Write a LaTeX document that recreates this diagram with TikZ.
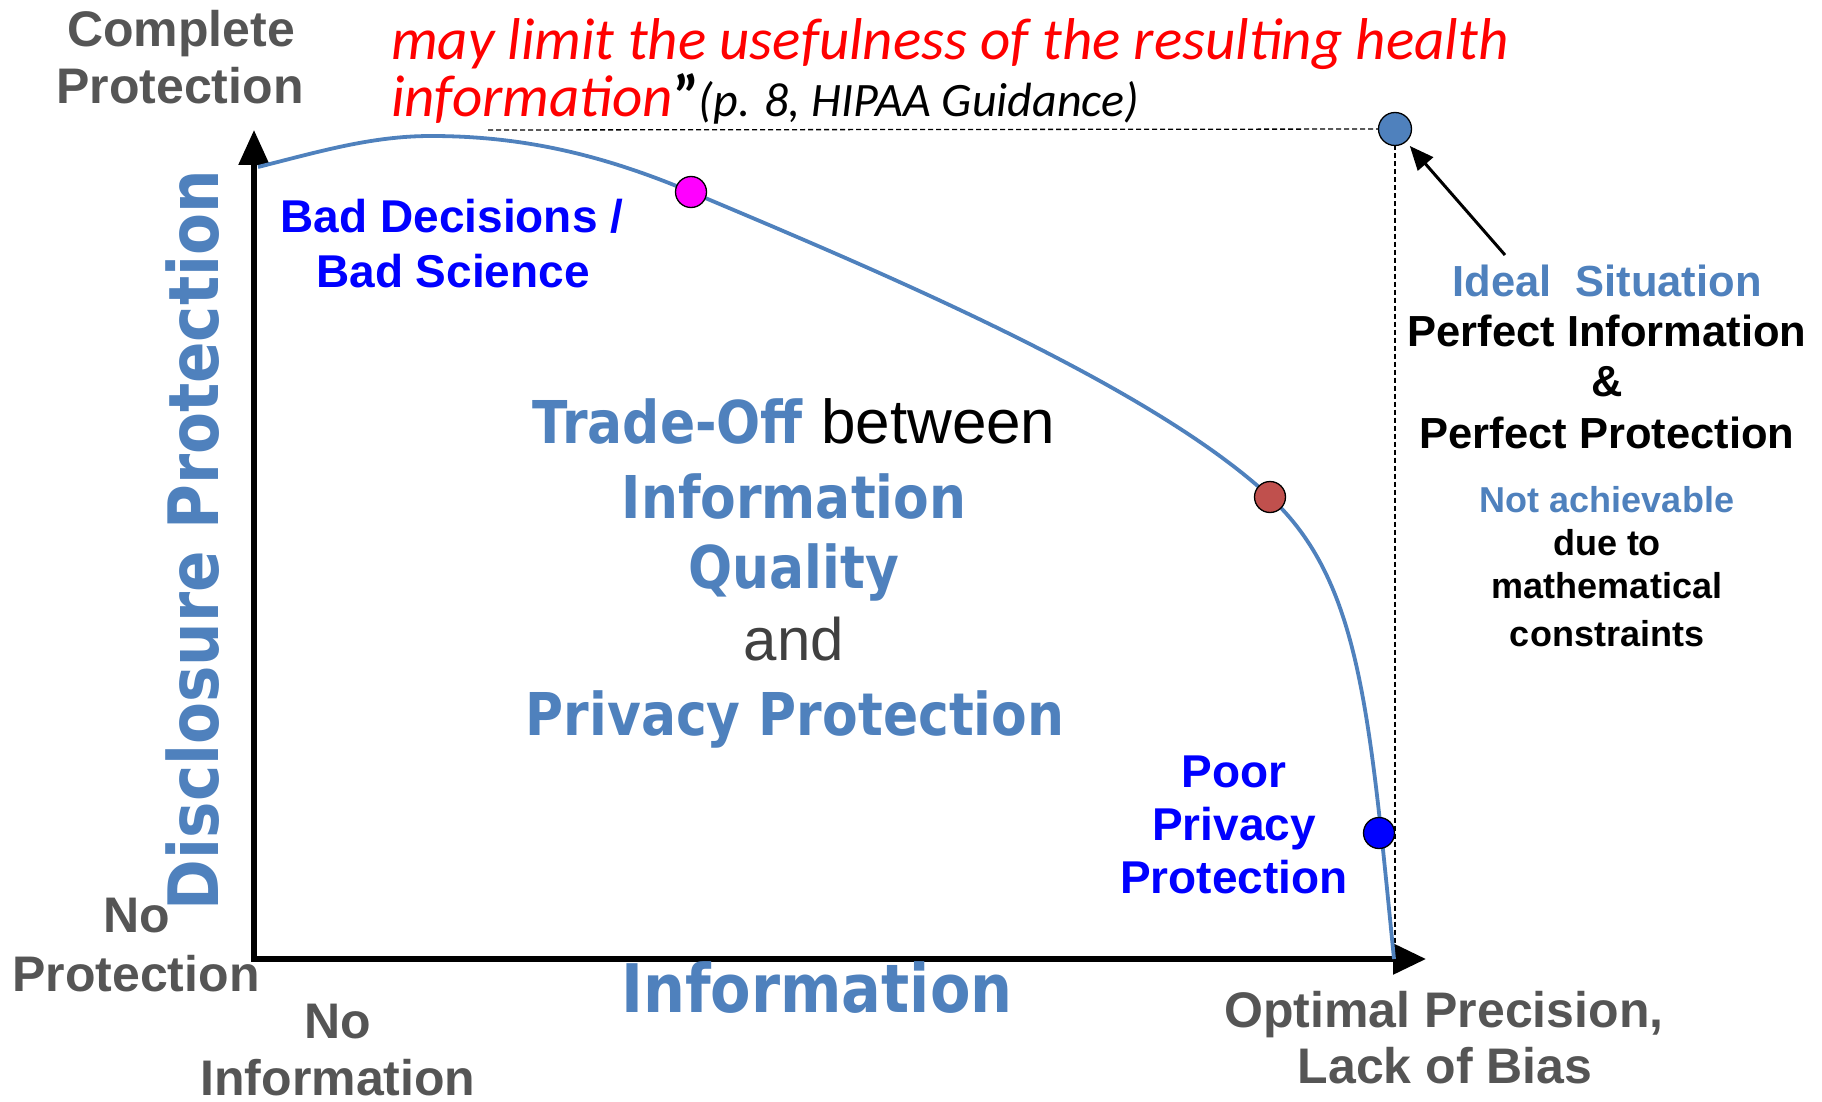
\documentclass[tikz,border=0pt]{standalone}
\usepackage{fontspec}
\setmainfont{Liberation Sans}
\newfontfamily\hum[FakeStretch=0.88]{DejaVu Sans}
\newfontfamily\calfont{Carlito}
\usetikzlibrary{arrows.meta}
\definecolor{steel}{RGB}{79,129,189}
\definecolor{gtxt}{RGB}{85,85,85}
\definecolor{pblue}{RGB}{0,0,255}
\definecolor{magpt}{RGB}{255,0,255}
\definecolor{redpt}{RGB}{192,80,77}
\definecolor{qred}{RGB}{255,0,0}
\definecolor{andgray}{RGB}{64,64,64}
\begin{document}
\begin{tikzpicture}[x=1pt,y=-1pt,
  every node/.style={inner sep=0pt,outer sep=0pt},
  graylab/.style={font=\fontsize{50}{60}\selectfont\bfseries,text=gtxt,anchor=base},
  bluelab/.style={font=\fontsize{46}{50}\selectfont\bfseries,text=pblue,anchor=base},
  rightlab/.style={font=\fontsize{43.5}{50}\selectfont\bfseries,anchor=base},
  smalllab/.style={font=\fontsize{36}{40}\selectfont\bfseries,anchor=base},
  centerlab/.style={font=\hum\fontsize{59}{60}\selectfont\bfseries,text=steel,anchor=base},
  dot/.style={circle,draw=black,line width=1.3pt,minimum size=31pt},
  axisline/.style={line width=5.5pt,line join=miter,{Triangle[length=35pt,width=30pt]}-{Triangle[length=33pt,width=30pt]}},
  curveline/.style={draw=steel,line width=3.8pt},
  dashline/.style={line width=1.3pt,dash pattern=on 5pt off 3pt},
  pointer/.style={line width=3pt,-{Triangle[length=24pt,width=20pt]},shorten >=6pt}
]
\useasboundingbox (0,0) rectangle (1822,1102);

% axes
\coordinate (ytop) at (254,130);
\coordinate (orig) at (254,959);
\coordinate (xend) at (1426,959);
\draw[axisline] (ytop) -- (orig) -- (xend);

% ideal point and dashed guides
\node[dot,fill=steel,minimum size=33pt] (ideal) at (1395,129) {};
\coordinate (dh) at (488,130);
\coordinate (dv) at (1395,955);
\draw[dashline] (dh) -- (ideal);
\draw[dashline] (ideal) -- (dv);

% frontier curve
\coordinate (cs) at (258,167);
\coordinate (cpk) at (431,136);
\coordinate (cm) at (691,192);
\coordinate (cr) at (1270,497);
\coordinate (ce) at (1394,959);
\draw[curveline] (cs) .. controls (318,152) and (371,136) .. (cpk)
  .. controls (521,136) and (601,154) .. (cm)
  .. controls (881,272) and (1150,385) .. (cr)
  .. controls (1360,581) and (1369,709) .. (ce);

\node[dot,fill=magpt] (magdot) at (cm) {};
\node[dot,fill=redpt] (reddot) at (cr) {};
\node[dot,fill=pblue] (bluedot) at (1379,833) {};

% pointer arrow
\coordinate (ptail) at (1505,255);
\draw[pointer] (ptail) -- (ideal);

% quote
\node[anchor=base west,font=\calfont\itshape\fontsize{59}{60}\selectfont,text=qred] (q1) at (391,60) {may limit the usefulness of the resulting health};
\node[anchor=base west,font=\calfont\itshape\fontsize{59}{60}\selectfont] (q2) at (391,117) {\textcolor{qred}{information}{\upshape\bfseries ”}{\fontsize{48}{50}\selectfont(p. 8, HIPAA Guidance)}};

% gray axis end labels
\node[graylab] (cp1) at (181,47) {Complete};
\node[graylab] (cp2) at (180,104) {Protection};
\node[graylab] (np1) at (137,932) {No};
\node[graylab] (np2) at (136,991) {Protection};
\node[graylab] (ni1) at (338,1038) {No};
\node[graylab] (ni2) at (338,1095) {Information};
\node[graylab] (op1) at (1444,1027) {Optimal Precision,};
\node[graylab] (op2) at (1445,1083) {Lack of Bias};

% axis titles
\node[font=\hum\fontsize{69.5}{70}\selectfont\bfseries,text=steel,anchor=base,rotate=90] (ylab) at (218,540) {Disclosure Protection};
\node[font=\hum\fontsize{67}{70}\selectfont\bfseries,text=steel,anchor=base] (xlab) at (817,1012) {Information};

% blue labels
\node[bluelab] (bd1) at (452,233) {Bad Decisions /};
\node[bluelab] (bd2) at (453,287) {Bad Science};
\node[bluelab] (pp1) at (1234,787) {Poor};
\node[bluelab] (pp2) at (1234,840) {Privacy};
\node[bluelab] (pp3) at (1234,893) {Protection};

% right block
\node[rightlab,text=steel] (r1) at (1607,296) {Ideal\ \ Situation};
\node[rightlab] (r2) at (1607,346) {Perfect Information};
\node[rightlab] (r3) at (1607,396) {\&};
\node[rightlab] (r4) at (1607,448) {Perfect Protection};
\node[smalllab,text=steel] (r5) at (1607,512) {Not achievable};
\node[smalllab] (r6) at (1607,555) {due to};
\node[smalllab] (r7) at (1607,598) {mathematical};
\node[smalllab] (r8) at (1607,646) {constraints};

% center block
\node[centerlab] (c1) at (794,443) {Trade-Off {\normalfont\fontsize{62}{60}\selectfont\color{black}between}};
\node[centerlab] (c2) at (794,518) {Information};
\node[centerlab] (c3) at (794,588) {Quality};
\node[font=\fontsize{60}{60}\selectfont,text=andgray,anchor=base] (c4) at (794,660) {and};
\node[centerlab] (c5) at (795,735) {Privacy Protection};
\end{tikzpicture}
\end{document}
